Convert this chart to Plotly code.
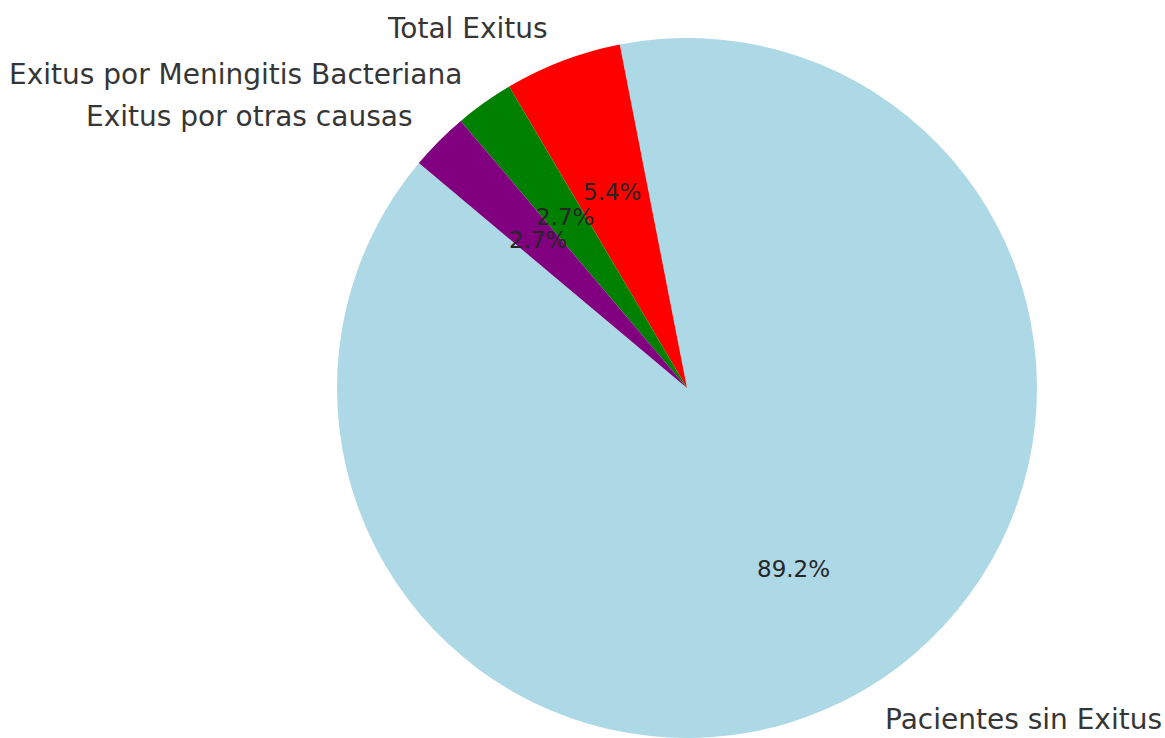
import math
import plotly.graph_objects as go

labels = ["Pacientes sin Exitus", "Total Exitus",
          "Exitus por Meningitis Bacteriana", "Exitus por otras causas"]
values = [33, 2, 1, 1]
colors = ["#add8e6", "#ff0000", "#008000", "#800080"]

W, H = 1165, 738
cx, cy, r = 687, 388, 350
start_angle = 140  # degrees, math convention, counter-clockwise

total = sum(values)
# plotly (counterclockwise): first slice's counterclockwise end sits at `rotation`
end_first = start_angle + values[0] / total * 360
rotation = ((90 - end_first) + 360) % 360
if rotation > 180:
    rotation -= 360

fig = go.Figure(go.Pie(
    labels=labels, values=values, sort=False,
    direction="counterclockwise", rotation=rotation,
    marker=dict(colors=colors, line=dict(width=0)),
    textinfo="none", showlegend=False,
    domain=dict(x=[max(0, (cx - r) / W), min(1, (cx + r) / W)],
                y=[max(0, (H - cy - r) / H), min(1, (H - cy + r) / H)]),
))

cum = start_angle
annotations = []
for lab, v in zip(labels, values):
    span = v / total * 360
    mid = math.radians(cum + span / 2)
    cum += span
    c, s = math.cos(mid), math.sin(mid)
    lx, ly = cx + 1.1 * r * c, cy - 1.1 * r * s
    annotations.append(dict(
        x=lx / W, y=1 - ly / H, xref="paper", yref="paper",
        text=lab, showarrow=False,
        xanchor="left" if c > 0 else "right", yanchor="middle",
        font=dict(family="DejaVu Sans", size=28, color="#363636"),
    ))
    px, py = cx + 0.6 * r * c, cy - 0.6 * r * s
    annotations.append(dict(
        x=px / W, y=1 - py / H, xref="paper", yref="paper",
        text=f"{v / total * 100:.1f}%", showarrow=False,
        xanchor="center", yanchor="middle",
        font=dict(family="DejaVu Sans", size=23, color="#262626"),
    ))

fig.update_layout(
    width=W, height=H,
    margin=dict(l=0, r=0, t=0, b=0),
    paper_bgcolor="white", plot_bgcolor="white",
    annotations=annotations,
)

fig.write_html("out.html")
